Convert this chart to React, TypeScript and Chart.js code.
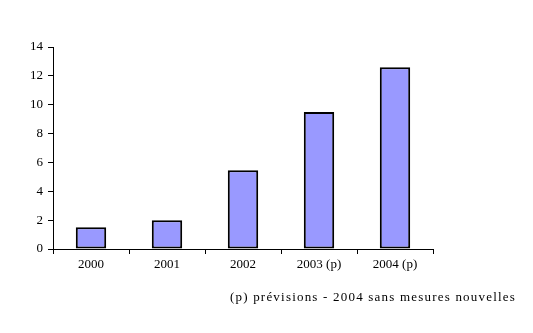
import React, { useEffect, useRef } from "react";
import { Chart, registerables } from "chart.js";

Chart.register(...registerables);

const categories = ["2000", "2001", "2002", "2003 (p)", "2004 (p)"];
const values = [1.5, 2.0, 5.45, 9.5, 12.6];
const yTicks = [0, 2, 4, 6, 8, 10, 12, 14];
const footnote = "(p) prévisions - 2004 sans mesures nouvelles";

const FONT = "'Liberation Serif', 'Times New Roman', serif";

const footnotePlugin = {
  id: "footnote",
  afterDraw(chart: any) {
    const ctx = chart.ctx;
    ctx.save();
    ctx.font = `13px ${FONT}`;
    ctx.fillStyle = "#000";
    ctx.textAlign = "right";
    ctx.textBaseline = "alphabetic";
    try {
      (ctx as any).letterSpacing = "1.2px";
    } catch (e) {}
    ctx.fillText(footnote, 516, 301);
    ctx.restore();
  },
};

export default function App() {
  const ref = useRef<HTMLCanvasElement>(null);
  useEffect(() => {
    if (!ref.current) return;
    const chart = new Chart(ref.current, {
      type: "bar",
      data: {
        labels: categories,
        datasets: [
          {
            data: values,
            backgroundColor: "#9999FF",
            borderColor: "#000000",
            borderWidth: 2,
            borderSkipped: false,
            barPercentage: 0.4,
            categoryPercentage: 1,
          },
        ],
      },
      options: {
        responsive: false,
        animation: false,
        layout: { padding: { top: 47, right: 100, left: 0, bottom: 0 } },
        plugins: {
          legend: { display: false },
          tooltip: { enabled: false },
          title: { display: false },
        },
        scales: {
          x: {
            grid: {
              display: true,
              drawOnChartArea: false,
              drawTicks: true,
              tickLength: 5,
              color: "#000",
              offset: true,
            },
            border: { display: true, color: "#000", width: 1 },
            ticks: {
              color: "#000",
              font: { family: FONT, size: 13 },
              padding: 3,
              maxRotation: 0,
            },
            afterFit: (s: any) => {
              s.height = 84;
            },
          },
          y: {
            min: 0,
            max: 14,
            afterBuildTicks: (s: any) => {
              s.ticks = yTicks.map((v) => ({ value: v }));
            },
            grid: {
              display: true,
              drawOnChartArea: false,
              drawTicks: true,
              tickLength: 5,
              color: "#000",
            },
            border: { display: true, color: "#000", width: 1 },
            ticks: {
              color: "#000",
              font: { family: FONT, size: 13 },
              padding: 5,
            },
            afterFit: (s: any) => {
              s.width = 53;
            },
          },
        },
      },
      plugins: [footnotePlugin],
    });
    return () => chart.destroy();
  }, []);
  return (
    <div style={{ position: "fixed", left: 0, top: 0, width: 533, height: 333, background: "#fff" }}>
      <canvas ref={ref} width={533} height={333} style={{ display: "block" }} />
    </div>
  );
}
